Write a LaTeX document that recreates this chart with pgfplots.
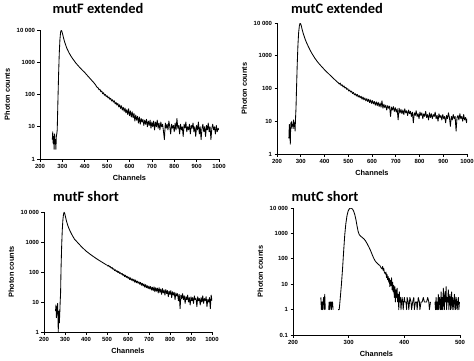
\documentclass[border=0pt]{standalone}
\usepackage{fontspec}
\usepackage{pgfplots}
\pgfplotsset{compat=1.18}
\newfontfamily\lsans{Liberation Sans}
\newfontfamily\carl{Carlito}
\newcommand\tickfont{\lsans\bfseries\fontsize{6}{7}\selectfont}
\newcommand\labfont{\lsans\bfseries\fontsize{7.4}{8}\selectfont}
\newcommand\titfont{\carl\bfseries\fontsize{14.5}{16}\selectfont}
\pgfplotsset{
    scale only axis, axis lines=left, axis line style={-,line width=0.8pt},
    tick align=outside, major tick length=2.5bp, tick style={line width=0.7pt,black},
    yminorticks=false, xminorticks=false,
    /pgf/number format/assume math mode=true,
    /pgf/number format/set thousands separator={},
    ticklabel style={font=\tickfont}, label style={font=\labfont},
    xticklabel style={yshift=1bp}, yticklabel style={xshift=1bp},
    unbounded coords=jump,
    every axis plot post/.append style={black, line width=0.85pt, mark=none, line join=round},
}
\begin{document}
\begin{tikzpicture}
\useasboundingbox (0,0) rectangle (474bp,-361bp);
% ---------------- mutF extended
\begin{axis}[ymode=log, xmin=200, xmax=1000, ymin=1, ymax=10000,
    xtick={200,300,...,1000},
    ytick={1,10,100,1000,10000}, yticklabels={1,10,100,1000,{10 000}},
    xlabel={Channels}, ylabel={Photon counts},
    at={(40bp,-159bp)}, anchor=south west, width=179bp, height=129bp]
\addplot table {
255 4
257 7
259 3
261 5
263 2
265 6
267 3
269 4
271 2
273 5
275 6
277 8
280 60
283 400
286 1800
289 5000
292 8500
295 9800
298 9000
302 7000
306 5400
310 4300
315 3400
320 2700
330 1950
340 1480
350 1180
360 950
370 790
380 660
390 560
400 480
410 400
420 335
430 280
440 235
448 200
452 180
456 165
460 160
464 140
468 145
472 122
476 128
480 105
484 114
488 95
492 100
496 86
500 92
504 78
508 84
512 71
516 76
520 63
524 69
528 58
532 64
536 51
540 57
544 47
548 53
552 41
556 48
560 37
564 45
568 33
572 40
576 30
580 38
584 27
588 34
592 24
596 36
600 22
604 31
608 20
612 29
616 19
620 26
624 15
628 23
632 16
636 21
640 13
644 20
648 12
652 18
656 14
660 17
664 11
668 16
672 12
676 17
680 10
684 15
688 11
692 16
696 9
700 14
704 10
708 15
712 8
716 14
720 10
724 16
728 9
732 13
736 8
740 14
744 10
748 12
752 7
756 4
760 13
764 9
768 12
772 8
776 15
780 10
784 6
788 12
792 9
796 11
800 7
804 13
808 8
812 18
816 9
820 11
824 6
828 12
832 8
836 10
840 5
844 12
848 9
852 14
856 7
860 10
864 8
868 12
872 6
876 11
880 9
884 13
888 7
892 10
896 5
900 11
904 8
908 14
912 6
916 10
920 4
924 9
928 12
932 7
936 10
940 5
944 11
948 8
952 13
956 7
960 10
964 4
968 9
972 12
976 8
980 10
984 6
988 11
992 7
996 9
1000 8
};
\end{axis}
% ---------------- mutC extended
\begin{axis}[ymode=log, xmin=200, xmax=1000, ymin=1, ymax=10000,
    xtick={200,300,...,1000},
    ytick={1,10,100,1000,10000}, yticklabels={1,10,100,1000,{10 000}},
    xlabel={Channels}, ylabel={Photon counts},
    at={(277bp,-154bp)}, anchor=south west, width=190bp, height=131bp]
\addplot table {
250 3
252 8
254 5
256 2
258 9
260 6
262 10
264 7
266 8
268 6
270 11
272 7
274 9
276 5
278 12
280 25
282 90
285 500
288 2000
291 5000
294 8000
297 9800
300 9400
303 7800
306 6300
310 4900
315 3800
320 3000
325 2450
330 2050
340 1450
350 1080
360 830
370 660
380 540
390 450
400 375
410 318
420 270
430 230
440 196
450 168
455 155
458 150
462 136
466 146
470 124
474 131
478 112
482 120
486 103
490 108
494 94
498 99
502 84
506 90
510 78
514 83
518 70
522 76
526 64
530 69
534 59
538 66
542 55
546 61
550 52
554 58
558 47
562 55
566 45
570 51
574 42
578 49
582 40
586 47
590 37
594 45
598 35
602 43
606 34
610 40
614 31
618 39
622 30
626 38
630 28
634 36
638 27
642 42
646 25
650 33
654 26
658 31
662 22
666 30
670 25
674 29
678 14
682 27
686 22
690 28
694 20
698 26
702 19
706 24
710 11
714 25
718 18
722 23
726 17
730 22
734 16
738 24
742 18
746 21
750 15
754 22
758 17
762 20
766 14
770 19
774 9
778 18
782 15
786 21
790 14
794 17
798 12
802 19
806 15
810 18
814 12
818 17
822 14
826 20
830 13
834 16
838 11
842 18
846 13
850 17
854 12
858 16
862 14
866 19
870 12
874 15
878 10
882 17
886 13
890 15
894 11
898 16
902 12
906 14
910 9
914 15
918 12
922 18
926 13
930 7
934 14
938 11
942 16
946 12
950 14
954 5
958 13
962 15
966 11
970 17
974 12
978 14
982 10
986 16
990 11
994 13
998 9
1000 12
};
\end{axis}
% ---------------- mutF short
\begin{axis}[ymode=log, xmin=200, xmax=1000, ymin=1, ymax=10000,
    xtick={200,300,...,1000},
    ytick={1,10,100,1000,10000}, yticklabels={1,10,100,1000,{10 000}},
    xlabel={Channels}, ylabel={Photon counts},
    at={(44bp,-332bp)}, anchor=south west, width=168bp, height=120bp]
\addplot table {
255 5
257 8
259 3
261 7
263 4
265 9
267 2
268 1
269 3
271 5
273 2
275 4
277 10
279 20
281 120
284 700
287 2500
290 5500
293 8500
296 9800
299 8800
303 6600
307 5000
312 3800
318 2900
325 2250
335 1650
345 1250
355 1050
365 880
375 740
385 630
400 500
420 390
440 310
460 250
480 205
496 175
500 170
504 158
508 166
512 148
516 152
520 134
524 141
528 124
532 129
536 112
540 118
544 104
548 110
552 96
556 104
560 90
564 95
568 84
572 90
576 77
580 83
584 70
588 78
592 66
596 72
600 62
604 68
608 56
612 64
616 53
620 59
624 50
628 57
632 46
636 54
640 44
644 50
648 42
652 47
656 39
660 45
664 36
668 42
672 34
676 40
680 31
684 38
688 30
692 35
696 28
700 34
704 27
708 33
712 25
716 31
720 24
724 32
728 22
732 30
736 23
740 29
744 20
748 30
752 21
756 27
760 18
764 28
768 20
772 25
776 17
780 26
784 19
788 24
792 15
796 23
800 18
804 24
808 14
812 22
816 17
820 21
824 12
828 20
832 16
836 19
840 11
844 18
848 6
852 17
856 13
860 19
864 12
868 16
872 9
876 15
880 12
884 17
888 10
892 14
896 8
900 15
904 11
908 14
912 9
916 16
920 12
924 13
928 7
932 15
936 11
940 13
944 8
948 14
952 10
956 16
960 9
964 13
968 11
972 15
976 7
980 12
984 10
988 14
992 6
996 17
1000 11
};
\end{axis}
% ---------------- mutC short
\begin{axis}[ymode=log, xmin=200, xmax=500, ymin=0.1, ymax=10000,
    xtick={200,300,400,500},
    ytick={0.1,1,10,100,1000,10000}, yticklabels={0.1,1,10,100,1000,{10 000}},
    xlabel={Channels}, ylabel={Photon counts},
    at={(293bp,-335bp)}, anchor=south west, width=167bp, height=127bp]
\addplot table {
250 3
251 1
252 2
253 1
254 2
255 3
256 1
257 4
258 1
259 nan
264 1
265 2
266 1
267 2
268 2
269 1
270 2
271 2
272 1
273 nan
281 1
283 1
285 3
287 10
289 40
291 200
293 900
295 2500
297 5000
299 7500
301 9200
303 9900
305 9800
307 9000
309 7500
311 5500
313 3500
315 2000
317 1200
319 900
321 800
324 700
327 620
330 520
333 400
336 300
339 220
342 150
345 105
348 80
350 72
352 65
354 58
356 55
358 45
360 40
361 50
362 35
363 42
364 30
366 25
367 30
368 18
369 24
370 15
371 20
372 12
373 17
374 8
375 14
376 9
377 18
378 6
379 12
380 5
381 9
382 3
383 8
384 2
385 6
386 3
387 7
388 2
389 4
390 1
391 5
392 2
393 3
394 1
395 2
396 3
397 2
398 1
399 2
400 3
401 2
403 2
404 1
405 3
407 2
408 1
410 3
412 2
413 1
415 2
417 3
418 1
420 2
422 2
423 1
425 3
427 2
428 1
430 2
432 2
434 3
436 2
438 2
440 2
442 3
444 2
445 1
447 2
448 nan
455 2
456 1
457 3
458 1
459 2
460 1
461 4
462 1
463 3
464 2
465 1
466 5
467 1
468 3
469 1
470 7
471 2
472 1
473 5
474 2
475 8
476 1
477 3
478 2
479 6
480 1
481 3
482 4
483 1
484 2
485 5
486 1
487 3
488 2
489 1
490 4
491 2
492 1
493 3
494 2
495 1
496 2
497 3
498 1
499 2
};
\end{axis}
\node[font=\titfont] at (98bp,-8bp) {mutF extended};
\node[font=\titfont] at (337bp,-8bp) {mutC extended};
\node[font=\titfont] at (86bp,-196bp) {mutF short};
\node[font=\titfont] at (325bp,-196bp) {mutC short};
\end{tikzpicture}
\end{document}
